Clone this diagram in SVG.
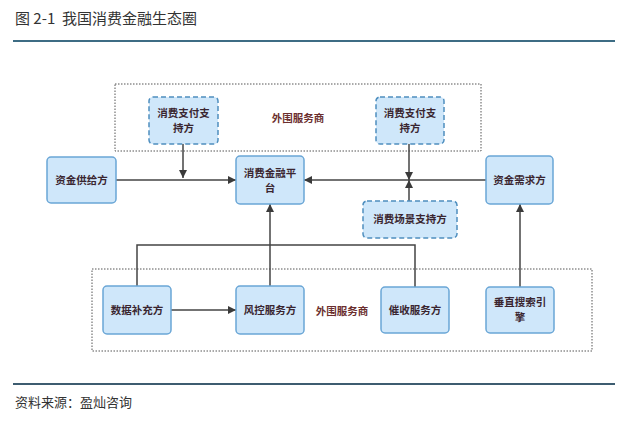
<svg xmlns="http://www.w3.org/2000/svg" width="640" height="427" viewBox="0 0 640 427">
<defs>
<marker id="arr" viewBox="0 0 10 10" refX="10" refY="5" markerWidth="8" markerHeight="8" markerUnits="userSpaceOnUse" orient="auto">
<path d="M0,0 L10,5 L0,10 z" fill="#3a3a3a"/>
</marker>
<style>
.t{font-family:"Noto Sans CJK SC","Liberation Sans",sans-serif;}
.node rect{fill:#cfe7fa;stroke:#6aa6d6;stroke-width:1.5;}
.dnode rect{fill:#cfe7fa;stroke:#4f8fbf;stroke-width:1.5;stroke-dasharray:5 3;}
.nt{font-family:"Noto Sans CJK SC",sans-serif;font-size:10.5px;font-weight:bold;fill:#3a2630;text-anchor:middle;}
.lbl{font-family:"Noto Sans CJK SC",sans-serif;font-size:10.5px;font-weight:bold;fill:#6b2e2e;text-anchor:middle;}
.zone{fill:none;stroke:#555;stroke-width:1;stroke-dasharray:1.5 1.5;}
.c{fill:none;stroke:#444;stroke-width:1.5;}
</style>
</defs>
<rect width="640" height="427" fill="#ffffff"/>
<text class="t" x="15" y="24" font-size="15" fill="#333" xml:space="preserve">图 2-1  我国消费金融生态圈</text>
<line x1="13" y1="41" x2="615" y2="41" stroke="#3d6c84" stroke-width="2"/>
<line x1="13" y1="384" x2="615" y2="384" stroke="#3d5c70" stroke-width="2"/>
<text class="t" x="15" y="407" font-size="13" fill="#333">资料来源：盈灿咨询</text>

<g id="zone-top"><rect class="zone" x="115" y="84" width="366" height="67"/><text class="lbl" x="298" y="122">外围服务商</text></g>
<g id="zone-bottom"><rect class="zone" x="92" y="269" width="500" height="82"/><text class="lbl" x="342" y="315">外围服务商</text></g>

<g id="connectors">
<line class="c" x1="116" y1="180" x2="236" y2="180" marker-end="url(#arr)"/>
<line class="c" x1="486" y1="180" x2="304" y2="180" marker-end="url(#arr)"/>
<line class="c" x1="183" y1="144" x2="183" y2="178" marker-end="url(#arr)"/>
<line class="c" x1="409" y1="144" x2="409" y2="180" marker-end="url(#arr)"/>
<line class="c" x1="409" y1="201" x2="409" y2="180" marker-end="url(#arr)"/>
<polyline class="c" points="137,286 137,245 415,245 415,287"/>
<line class="c" x1="270" y1="286" x2="270" y2="204" marker-end="url(#arr)"/>
<line class="c" x1="171" y1="310" x2="236" y2="310" marker-end="url(#arr)"/>
<line class="c" x1="520" y1="287" x2="520" y2="204" marker-end="url(#arr)"/>
</g>

<g id="pay-left" class="dnode"><rect x="149" y="97" width="69" height="47" rx="4"/><text class="nt" x="183.5" y="117">消费支付支</text><text class="nt" x="183.5" y="132">持方</text></g>
<g id="pay-right" class="dnode"><rect x="376" y="97" width="68" height="47" rx="4"/><text class="nt" x="410" y="117">消费支付支</text><text class="nt" x="410" y="132">持方</text></g>
<g id="platform" class="node"><rect x="236" y="156" width="68" height="48" rx="4"/><text class="nt" x="270" y="177">消费金融平</text><text class="nt" x="270" y="192">台</text></g>
<g id="supply" class="node"><rect x="47" y="157" width="69" height="46" rx="4"/><text class="nt" x="81.5" y="184">资金供给方</text></g>
<g id="demand" class="node"><rect x="486" y="156" width="67" height="48" rx="4"/><text class="nt" x="519.5" y="184">资金需求方</text></g>
<g id="scene" class="dnode"><rect x="363" y="201" width="94" height="37" rx="4"/><text class="nt" x="410" y="223">消费场景支持方</text></g>
<g id="data" class="node"><rect x="103" y="286" width="68" height="48" rx="4"/><text class="nt" x="137" y="314">数据补充方</text></g>
<g id="risk" class="node"><rect x="236" y="286" width="68" height="48" rx="4"/><text class="nt" x="270" y="314">风控服务方</text></g>
<g id="collect" class="node"><rect x="381" y="287" width="68" height="46" rx="4"/><text class="nt" x="415" y="314">催收服务方</text></g>
<g id="search" class="node"><rect x="486" y="287" width="68" height="46" rx="4"/><text class="nt" x="520" y="306">垂直搜索引</text><text class="nt" x="520" y="321">擎</text></g>
</svg>
